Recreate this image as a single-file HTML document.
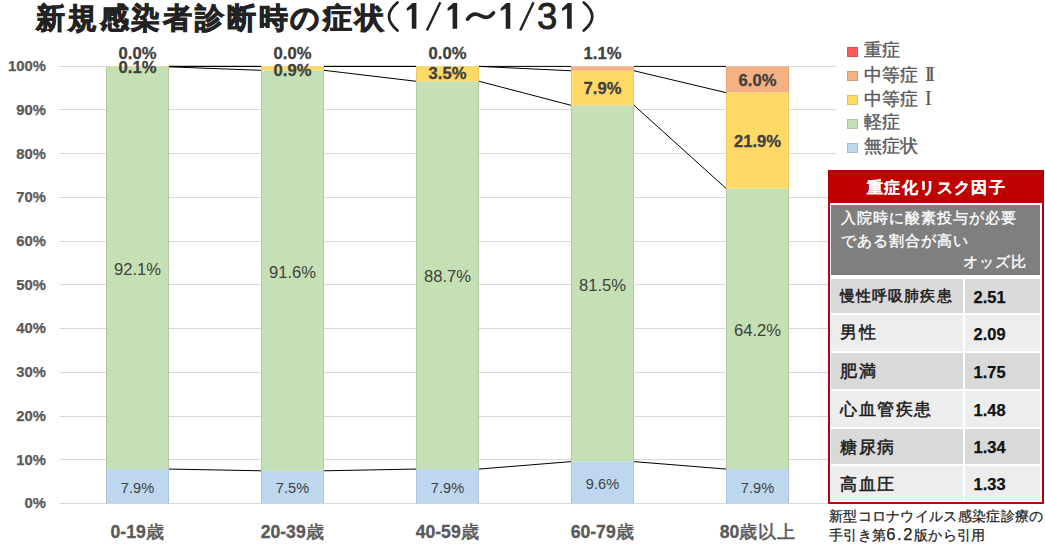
<!DOCTYPE html>
<html><head><meta charset="utf-8">
<style>
html,body{margin:0;padding:0;background:#fff;}
body{width:1045px;height:547px;position:relative;overflow:hidden;font-family:"Liberation Sans",sans-serif;}
.a{position:absolute;}
#title{position:absolute;left:36px;top:0px;font-size:28.6px;font-weight:bold;color:#222;white-space:nowrap;line-height:36px;letter-spacing:2.8px;-webkit-text-stroke:0.9px #222;}
.tg{position:absolute;top:-3px;width:30px;text-align:center;font-size:36.5px;color:#222;line-height:40px;-webkit-text-stroke:0.9px #222;}
.yl{position:absolute;left:0;width:45.8px;text-align:right;font-size:14.8px;font-weight:bold;color:#595959;line-height:18px;-webkit-text-stroke:0.25px #595959;}
k{font-weight:normal;-webkit-text-stroke:0.55px #595959;letter-spacing:0.6px;}
.xl{position:absolute;top:521px;width:120px;text-align:center;font-size:17.6px;font-weight:bold;color:#595959;line-height:22px;-webkit-text-stroke:0.3px #595959;}
.dg{position:absolute;width:80px;text-align:center;font-size:16.6px;color:#404040;line-height:18px;}
.db{position:absolute;width:80px;text-align:center;font-size:14.6px;color:#404040;line-height:16px;}
.dt{position:absolute;width:80px;text-align:center;font-size:16.6px;font-weight:bold;color:#404040;line-height:18px;-webkit-text-stroke:0.3px #404040;}
svg{position:absolute;left:0;top:0;}
.lg{position:absolute;left:847px;width:11px;height:10px;box-sizing:border-box;border:1px solid rgba(0,0,0,0.12);}
.lt{position:absolute;left:864px;font-size:17.5px;color:#595959;line-height:20px;white-space:nowrap;-webkit-text-stroke:0.4px #595959;}
.rn{font-family:"Liberation Serif",serif;font-size:20px;letter-spacing:-3.2px;margin-left:2px;-webkit-text-stroke:0.2px #595959;}
#box{position:absolute;left:828px;top:170px;width:216px;height:333.6px;box-sizing:border-box;border:2px solid #B8000F;background:#fff;}
#hdr{position:absolute;left:829px;top:171.5px;width:214px;height:31.5px;background:#C00000;color:#fff;font-weight:bold;font-size:16px;letter-spacing:1.4px;text-indent:1.4px;text-align:center;line-height:32px;-webkit-text-stroke:0.15px #fff;}
#gray{position:absolute;left:831px;top:204.8px;width:209px;height:69.8px;background:#7F7F7F;color:#fff;font-size:15px;letter-spacing:1.1px;-webkit-text-stroke:0.35px #fff;}
.c1{position:absolute;left:831px;width:131.8px;}
.c2{position:absolute;left:964.6px;width:75.8px;}
.t1{position:absolute;left:9px;top:0.5px;font-size:18px;color:#1a1a1a;white-space:nowrap;-webkit-text-stroke:0.5px #1a1a1a;}
.t2{position:absolute;left:9px;top:1px;font-size:16.4px;font-weight:bold;color:#111;-webkit-text-stroke:0.25px #111;}
#src{position:absolute;left:829px;top:507px;font-size:14.2px;color:#222;line-height:18px;white-space:nowrap;letter-spacing:0.3px;-webkit-text-stroke:0.25px #222;}
</style></head><body>
<div id="title">新規感染者診断時の症状</div>
<svg width="1045" height="547" viewBox="0 0 1045 547">
<line x1="59.5" x2="836" y1="503.50" y2="503.50" stroke="#D9D9D9" stroke-width="1"/>
<line x1="59.5" x2="836" y1="459.50" y2="459.50" stroke="#D9D9D9" stroke-width="1"/>
<line x1="59.5" x2="836" y1="416.50" y2="416.50" stroke="#D9D9D9" stroke-width="1"/>
<line x1="59.5" x2="836" y1="372.50" y2="372.50" stroke="#D9D9D9" stroke-width="1"/>
<line x1="59.5" x2="836" y1="328.50" y2="328.50" stroke="#D9D9D9" stroke-width="1"/>
<line x1="59.5" x2="836" y1="284.50" y2="284.50" stroke="#D9D9D9" stroke-width="1"/>
<line x1="59.5" x2="836" y1="241.50" y2="241.50" stroke="#D9D9D9" stroke-width="1"/>
<line x1="59.5" x2="836" y1="197.50" y2="197.50" stroke="#D9D9D9" stroke-width="1"/>
<line x1="59.5" x2="836" y1="153.50" y2="153.50" stroke="#D9D9D9" stroke-width="1"/>
<line x1="59.5" x2="836" y1="109.50" y2="109.50" stroke="#D9D9D9" stroke-width="1"/>
<line x1="59.5" x2="836" y1="66.50" y2="66.50" stroke="#D9D9D9" stroke-width="1"/>
<rect x="106.00" y="469.06" width="63" height="34.54" fill="#BDD7EE"/>
<rect x="106.00" y="469.06" width="1" height="34.54" fill="#AFC5DA"/>
<rect x="168.00" y="469.06" width="1" height="34.54" fill="#AFC5DA"/>
<rect x="106.00" y="66.84" width="63" height="402.22" fill="#C5E0B4"/>
<rect x="106.00" y="66.84" width="1" height="402.22" fill="#B3C9A3"/>
<rect x="168.00" y="66.84" width="1" height="402.22" fill="#B3C9A3"/>
<rect x="106.00" y="66.40" width="63" height="0.44" fill="#FFD966"/>
<rect x="106.00" y="66.40" width="1" height="0.44" fill="#EDCB62"/>
<rect x="168.00" y="66.40" width="1" height="0.44" fill="#EDCB62"/>
<rect x="261.00" y="470.81" width="63" height="32.79" fill="#BDD7EE"/>
<rect x="261.00" y="470.81" width="1" height="32.79" fill="#AFC5DA"/>
<rect x="323.00" y="470.81" width="1" height="32.79" fill="#AFC5DA"/>
<rect x="261.00" y="70.33" width="63" height="400.48" fill="#C5E0B4"/>
<rect x="261.00" y="70.33" width="1" height="400.48" fill="#B3C9A3"/>
<rect x="323.00" y="70.33" width="1" height="400.48" fill="#B3C9A3"/>
<rect x="261.00" y="66.40" width="63" height="3.93" fill="#FFD966"/>
<rect x="261.00" y="66.40" width="1" height="3.93" fill="#EDCB62"/>
<rect x="323.00" y="66.40" width="1" height="3.93" fill="#EDCB62"/>
<rect x="416.00" y="469.06" width="63" height="34.54" fill="#BDD7EE"/>
<rect x="416.00" y="469.06" width="1" height="34.54" fill="#AFC5DA"/>
<rect x="478.00" y="469.06" width="1" height="34.54" fill="#AFC5DA"/>
<rect x="416.00" y="81.26" width="63" height="387.80" fill="#C5E0B4"/>
<rect x="416.00" y="81.26" width="1" height="387.80" fill="#B3C9A3"/>
<rect x="478.00" y="81.26" width="1" height="387.80" fill="#B3C9A3"/>
<rect x="416.00" y="66.40" width="63" height="14.86" fill="#FFD966"/>
<rect x="416.00" y="66.40" width="1" height="14.86" fill="#EDCB62"/>
<rect x="478.00" y="66.40" width="1" height="14.86" fill="#EDCB62"/>
<rect x="571.00" y="461.63" width="63" height="41.97" fill="#BDD7EE"/>
<rect x="571.00" y="461.63" width="1" height="41.97" fill="#AFC5DA"/>
<rect x="633.00" y="461.63" width="1" height="41.97" fill="#AFC5DA"/>
<rect x="571.00" y="105.31" width="63" height="356.32" fill="#C5E0B4"/>
<rect x="571.00" y="105.31" width="1" height="356.32" fill="#B3C9A3"/>
<rect x="633.00" y="105.31" width="1" height="356.32" fill="#B3C9A3"/>
<rect x="571.00" y="70.77" width="63" height="34.54" fill="#FFD966"/>
<rect x="571.00" y="70.77" width="1" height="34.54" fill="#EDCB62"/>
<rect x="633.00" y="70.77" width="1" height="34.54" fill="#EDCB62"/>
<rect x="571.00" y="66.40" width="63" height="4.37" fill="#F4B183"/>
<rect x="571.00" y="66.40" width="1" height="4.37" fill="#E2A47B"/>
<rect x="633.00" y="66.40" width="1" height="4.37" fill="#E2A47B"/>
<rect x="726.00" y="469.06" width="63" height="34.54" fill="#BDD7EE"/>
<rect x="726.00" y="469.06" width="1" height="34.54" fill="#AFC5DA"/>
<rect x="788.00" y="469.06" width="1" height="34.54" fill="#AFC5DA"/>
<rect x="726.00" y="188.38" width="63" height="280.68" fill="#C5E0B4"/>
<rect x="726.00" y="188.38" width="1" height="280.68" fill="#B3C9A3"/>
<rect x="788.00" y="188.38" width="1" height="280.68" fill="#B3C9A3"/>
<rect x="726.00" y="92.63" width="63" height="95.75" fill="#FFD966"/>
<rect x="726.00" y="92.63" width="1" height="95.75" fill="#EDCB62"/>
<rect x="788.00" y="92.63" width="1" height="95.75" fill="#EDCB62"/>
<rect x="726.00" y="66.40" width="63" height="26.23" fill="#F4B183"/>
<rect x="726.00" y="66.40" width="1" height="26.23" fill="#E2A47B"/>
<rect x="788.00" y="66.40" width="1" height="26.23" fill="#E2A47B"/>
<line x1="169.00" x2="261.00" y1="469.06" y2="470.81" stroke="#000" stroke-width="1.0"/>
<line x1="169.00" x2="261.00" y1="66.84" y2="70.33" stroke="#000" stroke-width="1.0"/>
<line x1="169.00" x2="261.00" y1="66.40" y2="66.40" stroke="#000" stroke-width="1.0"/>
<line x1="169.00" x2="261.00" y1="66.40" y2="66.40" stroke="#000" stroke-width="1.0"/>
<line x1="324.00" x2="416.00" y1="470.81" y2="469.06" stroke="#000" stroke-width="1.0"/>
<line x1="324.00" x2="416.00" y1="70.33" y2="81.26" stroke="#000" stroke-width="1.0"/>
<line x1="324.00" x2="416.00" y1="66.40" y2="66.40" stroke="#000" stroke-width="1.0"/>
<line x1="324.00" x2="416.00" y1="66.40" y2="66.40" stroke="#000" stroke-width="1.0"/>
<line x1="479.00" x2="571.00" y1="469.06" y2="461.63" stroke="#000" stroke-width="1.0"/>
<line x1="479.00" x2="571.00" y1="81.26" y2="105.31" stroke="#000" stroke-width="1.0"/>
<line x1="479.00" x2="571.00" y1="66.40" y2="70.77" stroke="#000" stroke-width="1.0"/>
<line x1="479.00" x2="571.00" y1="66.40" y2="66.40" stroke="#000" stroke-width="1.0"/>
<line x1="634.00" x2="726.00" y1="461.63" y2="469.06" stroke="#000" stroke-width="1.0"/>
<line x1="634.00" x2="726.00" y1="105.31" y2="188.38" stroke="#000" stroke-width="1.0"/>
<line x1="634.00" x2="726.00" y1="70.77" y2="92.63" stroke="#000" stroke-width="1.0"/>
<line x1="634.00" x2="726.00" y1="66.40" y2="66.40" stroke="#000" stroke-width="1.0"/>
<path d="M397.5,2.5 C391,8 389,12 389,16.5 C389,21 391,25 397.5,30.5" fill="none" stroke="#222" stroke-width="2.8" stroke-linecap="round"/>
<path d="M583.8,2.5 C590.3,8 592.3,12 592.3,16.5 C592.3,21 590.3,25 583.8,30.5" fill="none" stroke="#222" stroke-width="2.8" stroke-linecap="round"/>
<path d="M440.3,2.2 L426.9,30.6 M533.6,2.2 L520.2,30.6" fill="none" stroke="#222" stroke-width="2.4" stroke-linecap="butt"/>
<path transform="translate(0,0)" d="M406.8,8.2 L412.4,3.1 L416.4,3.1 L416.4,28.8 L411.8,28.8 L411.8,8.6 L406.8,11.0 Z" fill="#222"/>
<path transform="translate(40.8,0)" d="M406.8,8.2 L412.4,3.1 L416.4,3.1 L416.4,28.8 L411.8,28.8 L411.8,8.6 L406.8,11.0 Z" fill="#222"/>
<path transform="translate(93.9,0)" d="M406.8,8.2 L412.4,3.1 L416.4,3.1 L416.4,28.8 L411.8,28.8 L411.8,8.6 L406.8,11.0 Z" fill="#222"/>
<path transform="translate(155.3,0)" d="M406.8,8.2 L412.4,3.1 L416.4,3.1 L416.4,28.8 L411.8,28.8 L411.8,8.6 L406.8,11.0 Z" fill="#222"/>
<path d="M467.5,19.2 C471,14 475,12.5 480.5,15.6 C486,18.8 490,18 493.5,12.8" fill="none" stroke="#222" stroke-width="3.6" stroke-linecap="round"/>
</svg>
<div class="yl" style="top:494.3px">0%</div>
<div class="yl" style="top:450.6px">10%</div>
<div class="yl" style="top:406.9px">20%</div>
<div class="yl" style="top:363.1px">30%</div>
<div class="yl" style="top:319.4px">40%</div>
<div class="yl" style="top:275.7px">50%</div>
<div class="yl" style="top:232.0px">60%</div>
<div class="yl" style="top:188.3px">70%</div>
<div class="yl" style="top:144.5px">80%</div>
<div class="yl" style="top:100.8px">90%</div>
<div class="yl" style="top:57.1px">100%</div>
<div class="xl" style="left:77.5px">0-19<k>歳</k></div>
<div class="xl" style="left:232.5px">20-39<k>歳</k></div>
<div class="xl" style="left:387.5px">40-59<k>歳</k></div>
<div class="xl" style="left:542.5px">60-79<k>歳</k></div>
<div class="xl" style="left:697.5px">80<k>歳以上</k></div>
<div class="dg" style="left:97.5px;top:260.9px">92.1%</div>
<div class="db" style="left:97.5px;top:479.5px">7.9%</div>
<div class="dg" style="left:252.5px;top:263.6px">91.6%</div>
<div class="db" style="left:252.5px;top:480.4px">7.5%</div>
<div class="dg" style="left:407.5px;top:268.2px">88.7%</div>
<div class="db" style="left:407.5px;top:479.5px">7.9%</div>
<div class="dg" style="left:562.5px;top:276.5px">81.5%</div>
<div class="db" style="left:562.5px;top:475.8px">9.6%</div>
<div class="dg" style="left:717.5px;top:321.7px">64.2%</div>
<div class="db" style="left:717.5px;top:479.5px">7.9%</div>
<div class="dt" style="left:97.5px;top:44.5px">0.0%</div>
<div class="dt" style="left:97.5px;top:59.0px">0.1%</div>
<div class="dt" style="left:252.5px;top:44.5px">0.0%</div>
<div class="dt" style="left:252.5px;top:62.0px">0.9%</div>
<div class="dt" style="left:407.5px;top:44.5px">0.0%</div>
<div class="dt" style="left:407.5px;top:65.0px">3.5%</div>
<div class="dt" style="left:562.5px;top:44.5px">1.1%</div>
<div class="dt" style="left:562.5px;top:80.0px">7.9%</div>
<div class="dt" style="left:717.5px;top:72.0px">6.0%</div>
<div class="dt" style="left:717.5px;top:133.0px">21.9%</div>
<div class="tg" style="left:532.2px">3</div>
<div class="lg" style="top:47px;background:#FF5B5B"></div><div class="lt" style="top:40px">重症</div>
<div class="lg" style="top:71px;background:#F4B183"></div><div class="lt" style="top:64px">中等症 <span class="rn">II</span></div>
<div class="lg" style="top:95px;background:#FFD966"></div><div class="lt" style="top:88px">中等症 <span class="rn">I</span></div>
<div class="lg" style="top:119px;background:#C5E0B4"></div><div class="lt" style="top:112px">軽症</div>
<div class="lg" style="top:143px;background:#BDD7EE"></div><div class="lt" style="top:136px">無症状</div>
<div id="box"></div>
<div id="hdr">重症化リスク因子</div>
<div id="gray">
<div class="a" style="left:9.5px;top:1px;line-height:23px;white-space:nowrap;">入院時に酸素投与が必要<br>である割合が高い</div>
<div class="a" style="right:13px;top:47px;line-height:20px;white-space:nowrap">オッズ比</div>
</div>
<div class="c1" style="top:278.7px;height:34.3px;background:#D9D9D9"><div class="t1" style="font-size:14.6px;letter-spacing:1.1px;line-height:34.3px">慢性呼吸肺疾患</div></div><div class="c2" style="top:278.7px;height:34.3px;background:#D9D9D9"><div class="t2" style="line-height:34.3px">2.51</div></div>
<div class="c1" style="top:314.7px;height:36.8px;background:#EDEDED"><div class="t1" style="font-size:16.8px;letter-spacing:1.6px;line-height:36.8px">男性</div></div><div class="c2" style="top:314.7px;height:36.8px;background:#EDEDED"><div class="t2" style="line-height:36.8px">2.09</div></div>
<div class="c1" style="top:353.2px;height:36.1px;background:#D9D9D9"><div class="t1" style="font-size:16.8px;letter-spacing:1.6px;line-height:36.1px">肥満</div></div><div class="c2" style="top:353.2px;height:36.1px;background:#D9D9D9"><div class="t2" style="line-height:36.1px">1.75</div></div>
<div class="c1" style="top:391.0px;height:36.1px;background:#EDEDED"><div class="t1" style="font-size:16.8px;letter-spacing:1.6px;line-height:36.1px">心血管疾患</div></div><div class="c2" style="top:391.0px;height:36.1px;background:#EDEDED"><div class="t2" style="line-height:36.1px">1.48</div></div>
<div class="c1" style="top:429.2px;height:35.1px;background:#D9D9D9"><div class="t1" style="font-size:16.8px;letter-spacing:1.6px;line-height:35.1px">糖尿病</div></div><div class="c2" style="top:429.2px;height:35.1px;background:#D9D9D9"><div class="t2" style="line-height:35.1px">1.34</div></div>
<div class="c1" style="top:466.0px;height:35.0px;background:#EDEDED"><div class="t1" style="font-size:16.8px;letter-spacing:1.6px;line-height:35.0px">高血圧</div></div><div class="c2" style="top:466.0px;height:35.0px;background:#EDEDED"><div class="t2" style="line-height:35.0px">1.33</div></div>
<div id="src">新型コロナウイルス感染症診療の<br>手引き第<span style="letter-spacing:1.6px;font-size:16.5px">6.2</span>版から引用</div>
</body></html>
